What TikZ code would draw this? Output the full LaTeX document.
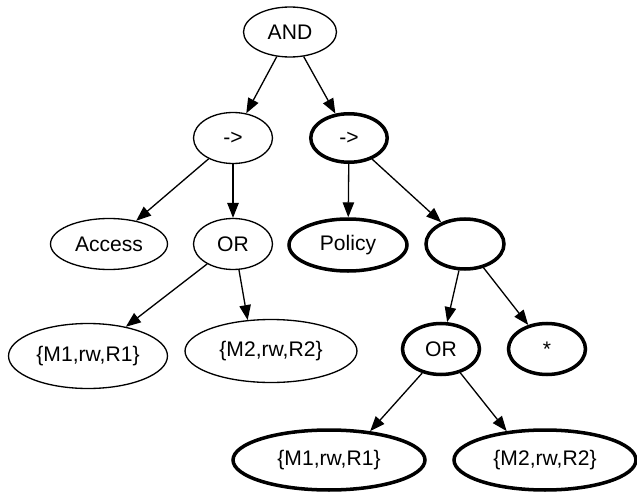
\documentclass[tikz,border=0pt]{standalone}
\usepackage{fontspec}
\setmainfont{Liberation Sans}
\usetikzlibrary{arrows.meta,shapes.geometric}

\begin{document}
\begin{tikzpicture}[x=0.02cm, y=-0.02cm,
    elnode/.style={draw, ellipse, inner sep=0pt, line width=0.75pt,
        font=\fontsize{12}{14}\selectfont},
    elthick/.style={elnode, line width=2pt},
    tarrow/.style={-{Triangle[length=8.5pt,width=6.5pt]}, line width=0.75pt}]
    \useasboundingbox (0,0) rectangle (637,494);

    % left branch
    \node[elnode, minimum width=1.86cm, minimum height=1cm] (and) at (290,32) {AND};
    \node[elnode, minimum width=1.58cm, minimum height=1.02cm] (impl) at (233,138) {->};
    \node[elnode, minimum width=2.34cm, minimum height=1.02cm] (access) at (109,244) {Access};
    \node[elnode, minimum width=1.58cm, minimum height=1.02cm] (orl) at (233,244) {OR};
    \node[elnode, minimum width=3.18cm, minimum height=1.3cm] (m1l) at (88,356) {\{M1,rw,R1\}};
    \node[elnode, minimum width=3.44cm, minimum height=1.26cm] (m2l) at (271,351) {\{M2,rw,R2\}};

    % right branch (thick)
    \node[elthick, minimum width=1.53cm, minimum height=0.97cm] (rimpl) at (349,138) {->};
    \node[elthick, minimum width=2.36cm, minimum height=1.04cm] (policy) at (348,245) {Policy};
    \node[elthick, minimum width=1.56cm, minimum height=1cm] (blank) at (465,244) {};
    \node[elthick, minimum width=1.54cm, minimum height=1.02cm] (orr) at (441,349) {OR};
    \node[elthick, minimum width=1.54cm, minimum height=1.02cm] (star) at (547,349) {*};
    \node[elthick, minimum width=3.84cm, minimum height=1.2cm] (m1r) at (329,460) {\{M1,rw,R1\}};
    \node[elthick, minimum width=3.64cm, minimum height=1.2cm] (m2r) at (545,460) {\{M2,rw,R2\}};

    \draw[tarrow] (and) -- (impl);
    \draw[tarrow] (and) -- (rimpl);
    \draw[tarrow] (impl) -- (access);
    \draw[tarrow] (impl) -- (orl);
    \draw[tarrow] (orl) -- (m1l);
    \draw[tarrow] (orl.-77) -- (m2l.127);
    \draw[tarrow] (rimpl) -- (policy);
    \draw[tarrow] (rimpl) -- (blank);
    \draw[tarrow] (blank) -- (orr);
    \draw[tarrow] (blank) -- (star);
    \draw[tarrow] (orr.-128) -- (m1r.35);
    \draw[tarrow] (orr.-51) -- (m2r.143);
\end{tikzpicture}
\end{document}
